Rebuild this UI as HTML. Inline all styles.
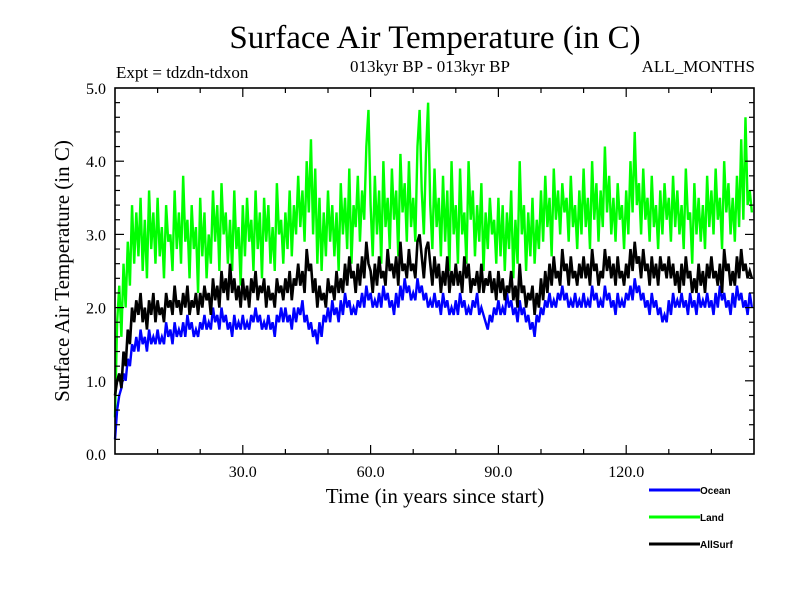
<!DOCTYPE html>
<html><head><meta charset="utf-8"><style>
body{margin:0;background:#fff;}
svg text{font-family:"Liberation Serif",serif;fill:#000;}
</style></head><body>
<svg id="chart" width="800" height="600" xmlns="http://www.w3.org/2000/svg">
<rect width="800" height="600" fill="#fff"/>
<text x="435" y="48" font-size="33" text-anchor="middle">Surface Air Temperature (in C)</text>
<text x="116" y="78" font-size="17">Expt = tdzdn-tdxon</text>
<text x="430" y="72" font-size="17" text-anchor="middle">013kyr BP - 013kyr BP</text>
<text x="755" y="72" font-size="17" text-anchor="end">ALL_MONTHS</text>
<text x="435" y="503" font-size="21" text-anchor="middle">Time (in years since start)</text>
<text transform="translate(69,271) rotate(-90)" font-size="21" text-anchor="middle">Surface Air Temperature (in C)</text>
<g id="series"></g>
<g id="axes"></g>
<g id="legend"></g>
</svg>
<script>
const years = [];
for (let i = 0; i < 300; i++) years.push(i * 0.5);
const landValues = [
0.5,1.8,2.3,1.6,2.6,2.0,2.9,2.3,3.4,2.6,3.3,2.7,3.5,2.5,3.2,2.4,3.6,2.8,3.3,2.6,
3.5,2.7,3.1,2.4,3.4,2.9,3.0,2.5,3.6,2.8,3.3,2.6,3.8,2.9,3.2,2.4,3.4,2.8,3.1,2.2,
3.5,2.7,3.3,2.4,3.0,2.6,3.6,2.9,3.4,2.5,3.7,3.0,3.3,2.6,3.2,2.5,3.6,2.8,3.1,2.3,
3.4,2.7,3.5,2.9,3.2,2.5,3.6,2.8,3.3,2.4,3.5,2.9,3.4,2.6,3.1,2.5,3.7,3.0,3.2,2.6,
3.3,2.8,3.6,2.7,3.4,3.0,3.8,3.1,3.6,2.9,4.0,3.3,4.3,3.0,3.9,2.6,3.5,2.5,3.3,2.7,
3.6,2.9,3.4,2.7,3.3,2.5,3.7,3.0,3.5,2.8,3.9,2.6,3.4,3.1,3.8,2.9,3.6,3.2,4.2,4.7,
3.4,2.7,3.8,3.0,3.6,2.6,4.0,3.1,3.5,2.8,3.9,3.2,3.6,2.7,4.1,3.3,3.7,2.9,4.0,3.1,
3.5,2.9,4.2,4.7,3.6,3.0,4.1,4.8,3.4,2.8,3.9,3.1,3.5,2.7,3.8,2.9,3.6,2.5,4.0,3.0,
3.4,2.6,3.9,3.0,3.3,2.6,4.0,3.2,3.6,2.7,3.4,2.9,3.7,2.5,3.3,2.8,3.5,3.0,3.2,2.6,
3.5,2.7,3.4,2.5,3.3,2.8,3.6,2.4,3.2,2.6,4.0,3.0,3.4,2.5,3.3,2.7,3.5,2.6,3.2,2.8,
3.6,2.9,3.8,3.1,3.5,2.7,3.9,3.2,3.6,3.0,3.7,3.3,3.5,2.9,3.8,3.1,3.4,2.8,3.6,3.0,
3.9,3.1,3.5,2.8,4.0,3.2,3.7,2.9,3.6,3.1,4.2,3.3,3.8,3.0,3.5,2.9,3.7,3.2,3.4,2.8,
3.6,3.0,4.0,3.3,4.4,3.4,3.7,3.0,3.9,3.2,3.5,2.9,3.8,3.1,3.4,2.8,3.6,3.0,3.7,3.2,
3.5,2.9,3.8,3.1,3.6,3.0,3.4,2.8,3.9,3.2,3.3,2.6,3.7,3.0,3.5,2.9,3.4,2.8,3.8,3.1,
3.6,3.0,3.9,3.2,3.5,2.8,4.0,3.3,3.7,3.0,3.5,2.9,3.8,3.1,4.3,3.2,4.6,3.4,3.6,3.3];
const allSurfValues = [
0.8,1.0,1.1,0.9,1.4,1.2,1.7,1.5,2.0,1.8,2.1,1.9,2.2,1.8,2.0,1.7,2.1,1.9,2.2,1.8,
2.1,1.9,2.0,1.8,2.2,2.0,2.1,1.9,2.3,2.0,2.1,1.9,2.2,2.0,2.3,1.9,2.1,2.0,2.2,1.9,
2.2,2.0,2.3,2.1,2.2,1.9,2.4,2.1,2.3,2.0,2.5,2.2,2.4,2.1,2.6,2.2,2.4,2.1,2.3,2.0,
2.4,2.1,2.3,2.0,2.4,2.2,2.5,2.1,2.3,2.2,2.4,2.0,2.3,2.1,2.2,2.0,2.4,2.2,2.3,2.1,
2.4,2.2,2.5,2.1,2.4,2.3,2.6,2.3,2.5,2.2,2.8,2.5,2.6,2.2,2.4,2.0,2.3,2.1,2.2,2.0,
2.4,2.2,2.3,2.1,2.5,2.2,2.4,2.2,2.6,2.3,2.7,2.4,2.5,2.2,2.6,2.3,2.7,2.4,2.9,2.6,
2.5,2.2,2.6,2.3,2.7,2.4,2.5,2.3,2.8,2.5,2.6,2.4,2.7,2.3,2.9,2.5,2.6,2.4,2.8,2.5,
2.6,2.4,2.9,3.0,2.7,2.4,2.8,2.9,2.6,2.3,2.7,2.4,2.6,2.2,2.5,2.3,2.7,2.2,2.5,2.3,
2.6,2.3,2.5,2.2,2.7,2.4,2.6,2.2,2.4,2.3,2.5,2.2,2.6,2.2,2.4,2.3,2.5,2.2,2.4,2.1,
2.5,2.2,2.4,2.1,2.3,2.2,2.5,2.1,2.3,2.0,2.6,2.2,2.3,2.0,2.2,2.1,2.3,1.9,2.2,2.0,
2.4,2.1,2.5,2.2,2.6,2.3,2.7,2.4,2.5,2.3,2.8,2.5,2.6,2.3,2.7,2.4,2.5,2.3,2.6,2.4,
2.7,2.4,2.6,2.3,2.8,2.5,2.6,2.3,2.5,2.4,2.8,2.5,2.7,2.4,2.6,2.3,2.7,2.4,2.5,2.3,
2.6,2.4,2.8,2.5,2.9,2.6,2.7,2.4,2.8,2.5,2.6,2.3,2.7,2.4,2.6,2.3,2.7,2.5,2.6,2.4,
2.7,2.4,2.6,2.3,2.5,2.2,2.6,2.3,2.7,2.4,2.5,2.2,2.4,2.2,2.6,2.3,2.5,2.2,2.6,2.4,
2.7,2.4,2.5,2.3,2.6,2.2,2.8,2.5,2.6,2.3,2.5,2.3,2.7,2.4,2.8,2.5,2.6,2.4,2.5,2.4];
const oceanValues = [
0.2,0.6,0.8,0.9,1.1,1.0,1.3,1.2,1.5,1.4,1.6,1.4,1.7,1.5,1.6,1.4,1.7,1.5,1.6,1.5,
1.7,1.5,1.6,1.5,1.8,1.6,1.7,1.5,1.8,1.6,1.7,1.6,1.8,1.6,1.9,1.7,1.8,1.6,1.7,1.6,
1.8,1.7,1.9,1.7,1.8,1.7,2.0,1.8,1.9,1.7,2.0,1.8,1.9,1.7,1.8,1.6,1.9,1.7,1.8,1.7,
1.9,1.7,1.8,1.7,1.9,1.8,2.0,1.8,1.9,1.7,1.8,1.7,1.9,1.7,1.8,1.6,1.9,1.8,2.0,1.8,
2.0,1.8,1.9,1.7,2.0,1.8,2.0,1.9,2.1,1.8,1.9,1.7,1.8,1.6,1.7,1.5,1.8,1.6,1.9,1.8,
2.0,1.8,2.1,1.9,2.0,1.8,2.1,1.9,2.2,2.0,2.1,1.9,2.0,1.9,2.1,2.0,2.2,2.0,2.3,2.1,
2.2,2.0,2.1,2.0,2.2,2.0,2.3,2.1,2.2,2.0,2.1,1.9,2.2,2.0,2.3,2.1,2.4,2.2,2.3,2.1,
2.2,2.1,2.4,2.2,2.3,2.1,2.2,2.0,2.1,2.0,2.2,2.0,2.1,1.9,2.2,2.0,2.1,1.9,2.0,1.9,
2.1,1.9,2.2,2.0,2.1,1.9,2.0,1.9,2.1,2.0,2.2,1.9,2.0,1.9,1.8,1.7,1.9,1.8,2.0,1.9,
2.1,1.9,2.0,1.9,2.2,2.0,2.1,1.9,2.0,1.8,2.1,1.9,2.0,1.8,1.9,1.7,1.8,1.6,1.9,1.8,
2.0,1.9,2.1,2.0,2.2,2.0,2.1,2.0,2.2,2.1,2.3,2.1,2.2,2.0,2.1,2.0,2.2,2.0,2.1,2.0,
2.2,2.0,2.1,2.0,2.3,2.1,2.2,2.0,2.1,2.0,2.3,2.1,2.2,2.0,2.1,1.9,2.2,2.0,2.1,2.0,
2.2,2.1,2.3,2.1,2.4,2.2,2.3,2.1,2.2,2.0,2.1,1.9,2.2,2.0,2.1,1.9,2.0,1.8,1.9,1.8,
2.1,1.9,2.2,2.0,2.1,2.0,2.2,2.0,2.1,1.9,2.2,2.0,2.1,1.9,2.2,2.0,2.1,2.0,2.2,2.0,
2.1,1.9,2.2,2.0,2.3,2.1,2.2,2.0,2.1,1.9,2.2,2.0,2.3,2.1,2.2,2.0,2.1,1.9,2.2,2.0];
const xTickValues = [30, 60, 90, 120];
const xTickLabels = ["30.0", "60.0", "90.0", "120.0"];
const yTickValues = [0, 1, 2, 3, 4, 5];
const yTickLabels = ["0.0", "1.0", "2.0", "3.0", "4.0", "5.0"];
const seriesNames = ["Ocean", "Land", "AllSurf"];
const seriesColors = ["#0000ff", "#00ff00", "#000000"];

const NS = "http://www.w3.org/2000/svg";
const L = 115, R = 754, T = 88, B = 454, XMAX = 150, YMAX = 5;
function xs(v){ return L + v / XMAX * (R - L); }
function ys(v){ return B - v / YMAX * (B - T); }
function mk(tag, attrs, parent){ const e = document.createElementNS(NS, tag); for (const k in attrs) e.setAttribute(k, attrs[k]); parent.appendChild(e); return e; }

const sg = document.getElementById('series');
function drawSeries(vals, color, name, w){
  const d = vals.map((v, i) => (i ? 'L' : 'M') + xs(years[i]).toFixed(2) + ' ' + ys(v).toFixed(2)).join(' ');
  const p = mk('path', {d: d, fill: 'none', stroke: color, 'stroke-width': w, 'stroke-linejoin': 'miter'}, sg);
  
  
}
drawSeries(landValues, seriesColors[1], 'land-line', 2.4);
drawSeries(oceanValues, seriesColors[0], 'ocean-line', 2.4);
drawSeries(allSurfValues, seriesColors[2], 'allsurf-line', 2.6);

const ax = document.getElementById('axes');
const frame = mk('rect', {x: L, y: T, width: R - L, height: B - T, fill: 'none', stroke: '#000', 'stroke-width': 1.6}, ax);


for (let v = 10; v < XMAX; v += 10) {
  const major = v % 30 === 0, len = major ? 9 : 5, x = xs(v);
  const t1 = mk('line', {x1: x, x2: x, y1: B, y2: B - len, stroke: '#000', 'stroke-width': 1.2}, ax);
  
  
  const t2 = mk('line', {x1: x, x2: x, y1: T, y2: T + len, stroke: '#000', 'stroke-width': 1.2}, ax);
  
  
}
xTickValues.forEach((v, i) => {
  const t = mk('text', {x: xs(v), y: B + 23, 'font-size': 16, 'text-anchor': 'middle'}, ax);
  t.textContent = xTickLabels[i];
  
  
});
for (let k = 1; k < 25; k++) {
  const v = k * 0.2, major = k % 5 === 0, len = major ? 9 : 5, y = ys(v);
  const t1 = mk('line', {x1: L, x2: L + len, y1: y, y2: y, stroke: '#000', 'stroke-width': 1.2}, ax);
  
  
  const t2 = mk('line', {x1: R, x2: R - len, y1: y, y2: y, stroke: '#000', 'stroke-width': 1.2}, ax);
  
  
}
yTickValues.forEach((v, i) => {
  const t = mk('text', {x: L - 9, y: ys(v) + 6, 'font-size': 16, 'text-anchor': 'end'}, ax);
  t.textContent = yTickLabels[i];
  
  
});

const lg = document.getElementById('legend');
seriesNames.forEach((n, i) => {
  const y = 490 + i * 27;
  const ln = mk('line', {x1: 649, x2: 700, y1: y, y2: y, stroke: seriesColors[i], 'stroke-width': 3}, lg);
  
  
  const t = mk('text', {x: 700, y: y + 4, 'font-size': 10, 'font-weight': 'bold', style: 'font-family:"Liberation Sans",sans-serif'}, lg);
  t.textContent = n;
  
  
});
</script>
</body></html>
